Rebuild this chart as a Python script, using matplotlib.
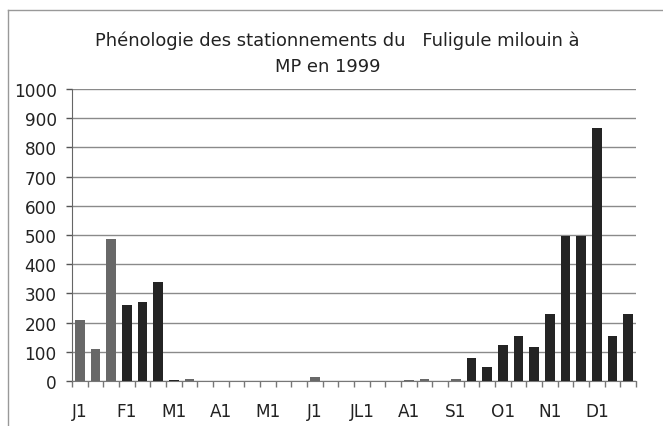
import matplotlib

matplotlib.use("Agg")
import matplotlib.pyplot as plt
from matplotlib.lines import Line2D
from matplotlib.ticker import FixedLocator, MultipleLocator

plt.rcParams["font.family"] = ["DejaVu Sans"]

# One value per decade (3 per month), January to December 1999
MONTH_LABELS = ["J1", "F1", "M1", "A1", "M1", "J1", "JL1", "A1", "S1", "O1", "N1", "D1"]
COUNTS = [
    210, 110, 485,   # janvier
    260, 270, 340,   # fevrier
    5, 8, 0,         # mars
    0, 0, 0,         # avril
    0, 0, 0,         # mai
    12, 0, 0,        # juin
    0, 0, 0,         # juillet
    5, 8, 0,         # aout
    6, 78, 48,       # septembre
    122, 155, 118,   # octobre
    230, 495, 495,   # novembre
    865, 155, 230,   # decembre
]
TITLE_1 = "Phénologie des stationnements du   Fuligule milouin à"
TITLE_2 = "MP en 1999"

# scan shading: some bars came out lighter than others
LIGHT_BARS = {0, 1, 2, 7, 15, 21, 22, 24}
LIGHT = "#686868"
DARK = "#242424"
FS = 12.2

fig = plt.figure(figsize=(6.63, 4.27), dpi=100)
ax = fig.add_axes([72 / 663, 1 - 382 / 427, (636 - 72) / 663, (382 - 90) / 427])

x = list(range(len(COUNTS)))
colors = [LIGHT if i in LIGHT_BARS else DARK for i in x]
ax.bar(x, COUNTS, width=0.6, color=colors, zorder=3)

ax.set_xlim(-0.5, len(COUNTS) - 0.5)
ax.set_ylim(0, 1000)
ax.yaxis.set_major_locator(MultipleLocator(100))
ax.grid(axis="y", color="#8a8a8a", linewidth=1.0, zorder=0)

# labels on the first decade of each month, ticks between categories
ax.set_xticks([3 * m for m in range(len(MONTH_LABELS))])
ax.set_xticklabels(MONTH_LABELS)
ax.xaxis.set_minor_locator(FixedLocator([i - 0.5 for i in range(len(COUNTS) + 1)]))
ax.tick_params(axis="x", which="major", length=0, pad=15, labelsize=FS, colors="#222222")
ax.tick_params(axis="x", which="minor", length=4, width=1, color="#777777")
ax.tick_params(axis="y", length=4, width=1, color="#555555", labelsize=FS,
               labelcolor="#222222", pad=7)

for side in ("top", "right"):
    ax.spines[side].set_visible(False)
ax.spines["left"].set_color("#666666")
ax.spines["bottom"].set_color("#777777")

fig.text(337 / 663, 1 - 41 / 427, TITLE_1, ha="center", va="center", fontsize=12.9, color="#222222")
fig.text(328 / 663, 1 - 67 / 427, TITLE_2, ha="center", va="center", fontsize=12.9, color="#222222")

# chart frame, cut by the scan on the right and bottom
fig.add_artist(Line2D([8 / 663, 1], [1 - 11 / 427] * 2, color="#999999", linewidth=1))
fig.add_artist(Line2D([8 / 663] * 2, [0, 1 - 11 / 427], color="#999999", linewidth=1))

fig.savefig("out.png", dpi=100)
